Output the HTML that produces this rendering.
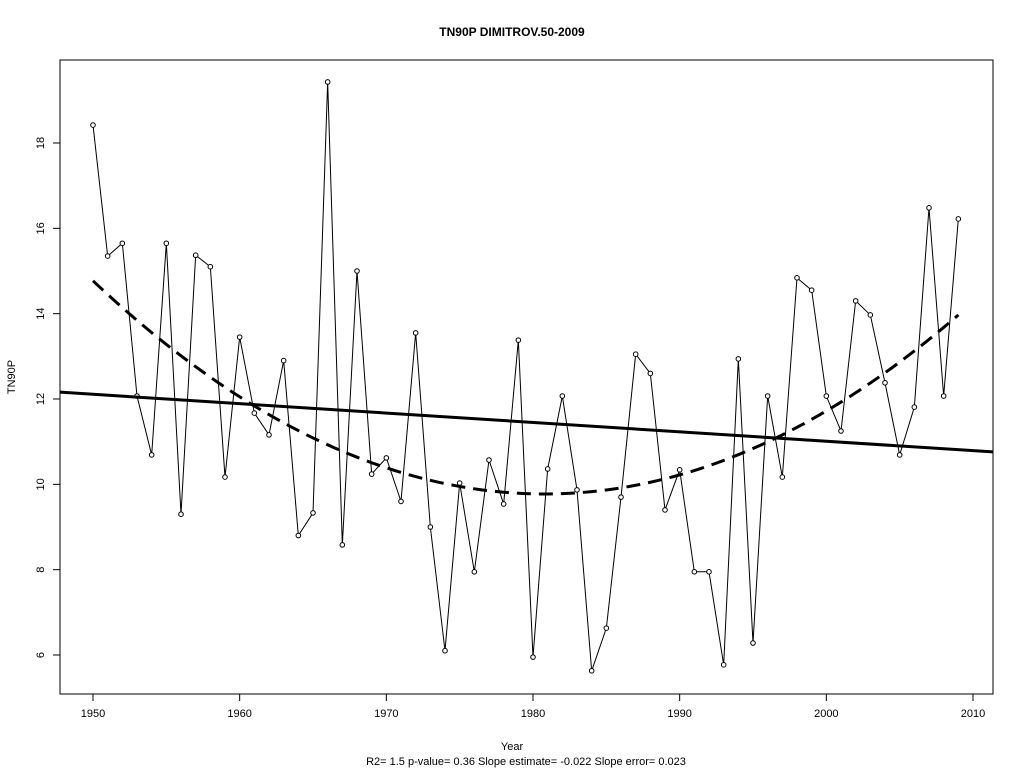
<!DOCTYPE html>
<html><head><meta charset="utf-8"><style>
body{margin:0;background:#fff;}
svg text{font-family:"Liberation Sans",Arial,sans-serif;fill:#000;}
</style></head><body>
<svg id="c" width="1024" height="768" xmlns="http://www.w3.org/2000/svg">
<rect x="0" y="0" width="1024" height="768" fill="#fff"/>
<text x="512" y="36" text-anchor="middle" font-size="12" font-weight="bold">TN90P   DIMITROV.50-2009</text>
<rect x="60" y="60" width="933" height="634" fill="none" stroke="#000" stroke-width="1"/>
<text x="512" y="750" text-anchor="middle" font-size="11">Year</text>
<text x="526" y="765" text-anchor="middle" font-size="11">R2= 1.5  p-value= 0.36  Slope estimate= -0.022  Slope error= 0.023</text>
<text x="0" y="0" transform="translate(15,377) rotate(-90)" text-anchor="middle" font-size="11">TN90P</text>
<g id="g"></g>
</svg>
<script>
const years=[];for(let y=1950;y<=2009;y++)years.push(y);
const values=[18.42,15.35,15.65,12.07,10.69,15.65,9.3,15.37,15.1,10.17,13.45,11.67,11.16,12.9,8.8,9.33,19.43,8.58,15.0,10.24,10.62,9.6,13.55,9.0,6.1,10.03,7.95,10.57,9.54,13.38,5.95,10.36,12.07,9.87,5.63,6.63,9.7,13.05,12.6,9.4,10.34,7.95,7.95,5.77,12.94,6.28,12.07,10.17,14.84,14.55,12.07,11.25,14.3,13.97,12.38,10.69,11.81,16.48,12.07,16.22];
const xTicks=[1950,1960,1970,1980,1990,2000,2010];
const yTicks=[6,8,10,12,14,16,18];
const trendX=[1947.75,2011.36];
const trendY=[12.16,10.76];
const smoothX=[1950,1983,2009];
const smoothY=[14.77,9.8,13.97];
const X=v=>93+(v-1950)*(880/60);
const Y=v=>655-(v-6)*(512/12);
const NS="http://www.w3.org/2000/svg";
const g=document.getElementById('g');
function mk(t,a){const e=document.createElementNS(NS,t);for(const k in a)e.setAttribute(k,a[k]);g.appendChild(e);return e;}
xTicks.forEach(t=>{
 const l=mk('line',{x1:X(t),x2:X(t),y1:694,y2:701,stroke:'#000'});
 
 
 const s=mk('text',{x:X(t),y:717,'text-anchor':'middle','font-size':11});s.textContent=t;
 
 
});
yTicks.forEach(t=>{
 const l=mk('line',{x1:53,x2:60,y1:Y(t),y2:Y(t),stroke:'#000'});
 
 
 const s=mk('text',{x:0,y:0,transform:`translate(44,${Y(t)}) rotate(-90)`,'text-anchor':'middle','font-size':11});s.textContent=t;
 
 
});
const line=mk('polyline',{points:years.map((y,i)=>X(y)+','+Y(values[i])).join(' '),fill:'none',stroke:'#000','stroke-width':1});


years.forEach((y,i)=>{
 const c=mk('circle',{cx:X(y),cy:Y(values[i]),r:2.3,fill:'#fff',stroke:'#000','stroke-width':1});
 
 
});
const tr=mk('line',{x1:X(trendX[0]),y1:Y(trendY[0]),x2:X(trendX[1]),y2:Y(trendY[1]),stroke:'#000','stroke-width':3});


function quad(x){let s=0;for(let i=0;i<3;i++){let p=smoothY[i];for(let j=0;j<3;j++)if(j!==i)p*=(x-smoothX[j])/(smoothX[i]-smoothX[j]);s+=p;}return s;}
const pts=[];for(let x=smoothX[0];x<=smoothX[2]+1e-9;x+=0.5)pts.push(X(x)+','+Y(quad(x)));
const sm=mk('polyline',{points:pts.join(' '),fill:'none',stroke:'#000','stroke-width':3,'stroke-dasharray':'14,8'});


</script>
</body></html>
